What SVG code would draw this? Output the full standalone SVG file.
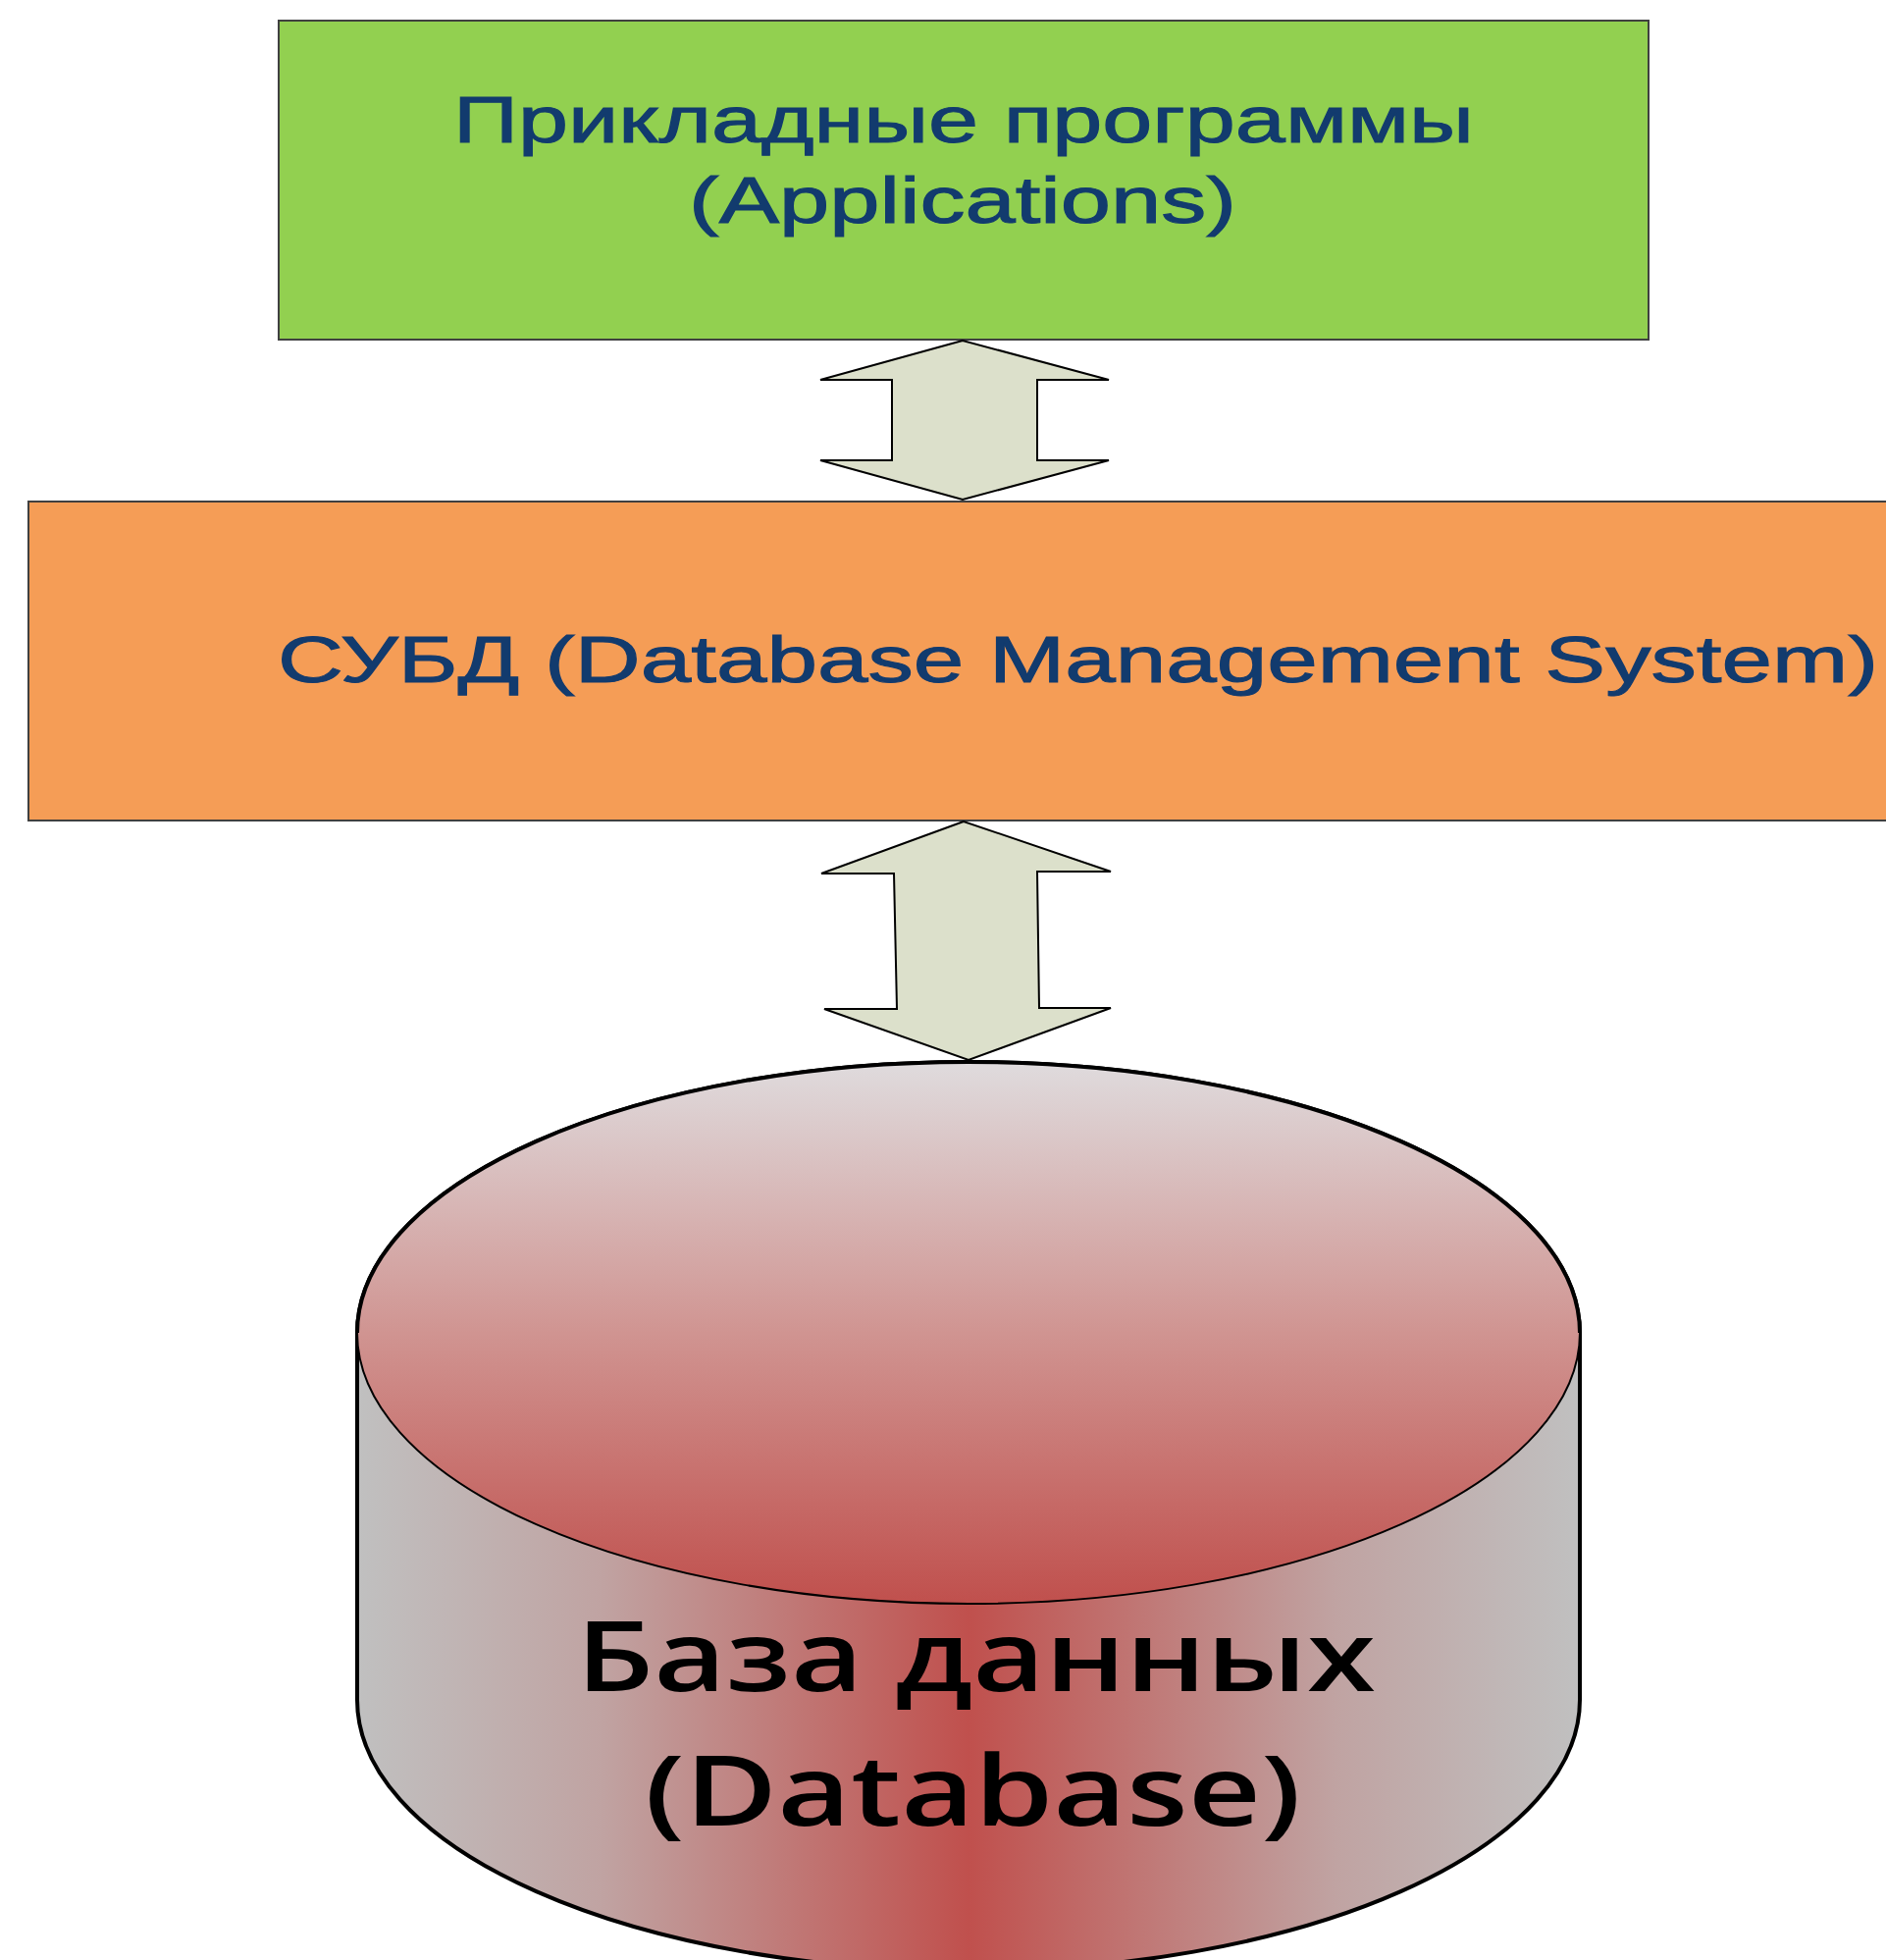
<svg xmlns="http://www.w3.org/2000/svg" width="1922" height="1997" viewBox="0 0 1922 1997">
<style>
.box{stroke:#404040;stroke-width:2}
.lbl{font-family:"Liberation Sans",Arial,sans-serif;fill:#123B6E;stroke:#123B6E;stroke-width:1}
.db{font-family:"Open Sans","DejaVu Sans",sans-serif;font-weight:600;fill:#000}
.arr{fill:#DCE0CB;stroke:#000;stroke-width:2;stroke-linejoin:miter}
</style>
<defs>
<linearGradient id="body" x1="364" y1="0" x2="1610" y2="0" gradientUnits="userSpaceOnUse">
<stop offset="0" stop-color="#C0C0C0"/>
<stop offset="0.2" stop-color="#C0A3A2"/>
<stop offset="0.5" stop-color="#C0504D"/>
<stop offset="0.8" stop-color="#C0A3A2"/>
<stop offset="1" stop-color="#C0C0C0"/>
</linearGradient>
<linearGradient id="top" x1="0" y1="1083" x2="0" y2="1634" gradientUnits="userSpaceOnUse">
<stop offset="0" stop-color="#DFDBDD"/>
<stop offset="0.5" stop-color="#D09491"/>
<stop offset="1" stop-color="#C0504D"/>
</linearGradient>
</defs>
<rect width="1922" height="1997" fill="#fff"/>
<g id="applications">
<rect class="box" x="284" y="21" width="1396" height="325" fill="#92D050"/>
<text class="lbl" x="462" y="145" font-size="66" textLength="1040" lengthAdjust="spacingAndGlyphs">Прикладные программы</text>
<text class="lbl" x="702" y="227" font-size="66" textLength="558" lengthAdjust="spacingAndGlyphs">(Applications)</text>
</g>
<g id="dbms">
<rect class="box" x="29" y="511" width="1910" height="325" fill="#F59D56"/>
<text class="lbl" x="283" y="695" font-size="67" textLength="1631" lengthAdjust="spacingAndGlyphs">СУБД (Database Management System)</text>
</g>
<g id="database">
<path d="M364,1358 A623,276 0 0 1 1610,1358 L1610,1732 A623,276 0 0 1 364,1732 Z" fill="url(#body)" stroke="#000" stroke-width="4"/>
<ellipse cx="987" cy="1358" rx="623" ry="276" fill="url(#top)" stroke="#000" stroke-width="2"/>
<path d="M364,1358 A623,276 0 0 1 1610,1358" fill="none" stroke="#000" stroke-width="4"/>
<text class="db" x="587" y="1723" font-size="100" textLength="815" lengthAdjust="spacingAndGlyphs">База данных</text>
<text class="db" x="657" y="1860" font-size="100" textLength="669" lengthAdjust="spacingAndGlyphs">(Database)</text>
</g>
<g id="connectors">
<polygon class="arr" points="981,347 836,387 909,387 909,469 836,469 981,509 1130,469 1057,469 1057,387 1130,387"/>
<polygon class="arr" points="982,837 837,890 911,890 914,1028 840,1028 987,1080 1132,1027 1059,1027 1057,888 1132,888"/>
</g>
</svg>
